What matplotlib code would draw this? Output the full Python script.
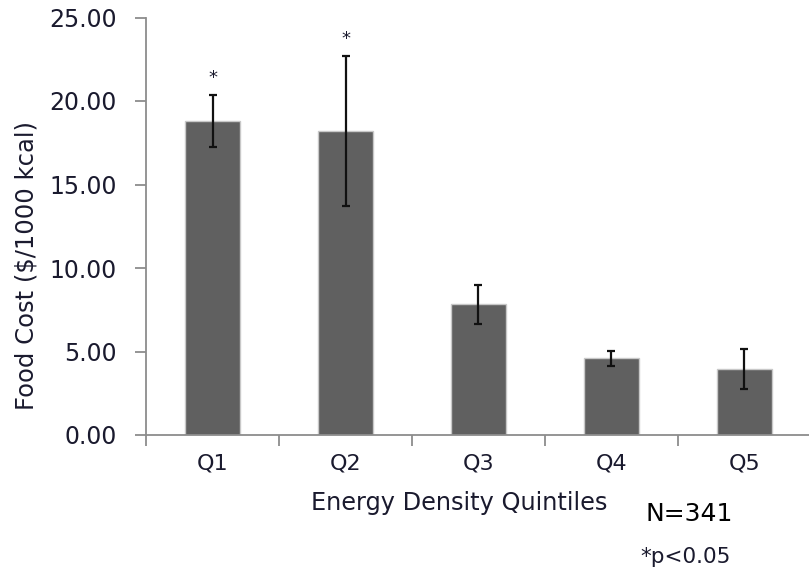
import numpy as np
import matplotlib
matplotlib.use('Agg')
import matplotlib.pyplot as plt
from matplotlib.ticker import FormatStrFormatter

# data
quintiles = ['Q1', 'Q2', 'Q3', 'Q4', 'Q5']
food_cost = [18.80, 18.20, 7.82, 4.59, 3.97]   # $/1000 kcal
err = [1.55, 4.50, 1.15, 0.43, 1.20]
signif = [True, True, False, False, False]      # *p<0.05

txt_col = '#1a1a2e'
spine_col = '#8c8c8c'

fig = plt.figure(figsize=(8.09, 5.73), dpi=100)
ax = fig.add_axes([146/809, 1 - 435/573, 665/809, (435 - 17.5)/573])

x = np.arange(len(quintiles))
ax.bar(x, food_cost, width=0.41, color='#606060', edgecolor='#c8c8c8', linewidth=1.0, zorder=2)
ax.errorbar(x, food_cost, yerr=err, fmt='none', ecolor='#111111', elinewidth=1.6,
            capsize=2.9, capthick=1.6, zorder=3)

# significance stars
for i in range(len(x)):
    if signif[i]:
        ax.text(x[i], food_cost[i] + err[i] + 1.0, '*', ha='center', va='center',
                fontsize=13, color=txt_col)

ax.set_xlim(-0.5, 4.5)
ax.set_ylim(0, 25)
ax.set_yticks(np.arange(0, 26, 5))
ax.yaxis.set_major_formatter(FormatStrFormatter('%.2f'))

# category boundaries as x ticks, labels centred on bars
ax.set_xticks(np.arange(-0.5, 4.6, 1.0))
ax.set_xticklabels([])
ax.set_xticks(x, minor=True)
ax.set_xticklabels(quintiles, minor=True)
ax.tick_params(axis='x', which='minor', length=0, pad=13, labelsize=16, labelcolor=txt_col)
ax.tick_params(axis='x', which='major', length=8, width=1.3, color=spine_col, direction='out')
ax.tick_params(axis='y', length=8, width=1.3, color=spine_col, direction='out', pad=13,
               labelsize=17, labelcolor=txt_col)

for s in ['top', 'right']:
    ax.spines[s].set_visible(False)
for s in ['left', 'bottom']:
    ax.spines[s].set_color(spine_col)
    ax.spines[s].set_linewidth(1.3)

ax.set_ylabel('Food Cost ($/1000 kcal)', fontsize=17.5, color=txt_col)
ax.yaxis.set_label_coords(-0.161, 0.405)
ax.set_xlabel('Energy Density Quintiles', fontsize=17.3, color=txt_col)
ax.xaxis.set_label_coords(0.4707, -0.134)

fig.text(645/809, 1 - 514/573, 'N=341', fontsize=18, color='black', va='center', ha='left')
fig.text(640/809, 1 - 557/573, '*p<0.05', fontsize=15.5, color=txt_col, va='center', ha='left')

fig.savefig('out.png', dpi=100)
